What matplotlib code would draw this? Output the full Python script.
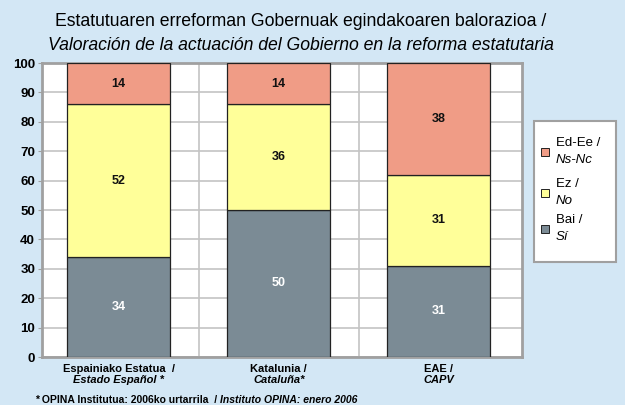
import matplotlib
matplotlib.use("Agg")
import matplotlib.pyplot as plt
from matplotlib.patches import Rectangle
import numpy as np

plt.rcParams['font.family'] = ['Liberation Sans', 'DejaVu Sans']

cat_eu = ["Espainiako Estatua  /", "Katalunia /", "EAE /"]
cat_es = ["Estado Español *", "Cataluña*", "CAPV"]
bai = [34, 50, 31]
ez = [52, 36, 31]
ns = [14, 14, 38]
series_eu = ["Ed-Ee /", "Ez /", "Bai /"]
series_es = ["Ns-Nc", "No", "Sí"]
colors = {"ns": "#f09c86", "ez": "#ffff99", "bai": "#7b8b95"}
yticks = list(range(0, 101, 10))

bg = "#d3e7f5"
fig = plt.figure(figsize=(6.25, 4.05), dpi=100, facecolor=bg)
ax = fig.add_axes([42/625, 1-357/405, 480/625, 294/405])
ax.set_facecolor("white")

x = np.arange(len(cat_eu))
w = 0.644
bottoms = np.zeros(3)
for vals, key in [(bai, "bai"), (ez, "ez"), (ns, "ns")]:
    ax.bar(x, vals, w, bottom=bottoms, color=colors[key], edgecolor="#222222", linewidth=0.9, zorder=3)
    for xi, b, v in zip(x, bottoms, vals):
        ax.text(xi, b + v/2, str(v), ha="center", va="center", fontsize=9, fontweight="bold",
                color="white" if key == "bai" else "#111111", zorder=4)
    bottoms = bottoms + np.array(vals)

ax.set_xlim(-0.48, 2.52)
ax.set_ylim(0, 100)
ax.set_yticks(yticks)
ax.set_yticklabels([str(t) for t in yticks], fontsize=9.5, fontweight="bold")
ax.set_xticks([])
ax.yaxis.grid(True, color="#c4c4c4", linewidth=1.2, zorder=0)
for xv in [0.5, 1.5]:
    ax.axvline(xv, color="#c4c4c4", linewidth=1.2, zorder=0)
for s in ax.spines.values():
    s.set_color("#a0a0a0")
    s.set_linewidth(2)
ax.tick_params(axis="y", length=3, color="#a0a0a0", pad=2)

for xi, l1, l2 in zip(x, cat_eu, cat_es):
    ax.text(xi, -4.2, l1, ha="center", va="center", fontsize=8, fontweight="bold")
    ax.text(xi, -7.9, l2, ha="center", va="center", fontsize=8, fontweight="bold", style="italic")

fig.text(301/625, 1-22/405, "Estatutuaren erreforman Gobernuak egindakoaren balorazioa /",
         ha="center", va="center", fontsize=12.7)
fig.text(301/625, 1-45/405, "Valoración de la actuación del Gobierno en la reforma estatutaria",
         ha="center", va="center", fontsize=12.7, style="italic")

t1 = fig.text(35/625, 1-400/405, "* OPINA Institutua: 2006ko urtarrila  / ", ha="left", va="center",
              fontsize=7.5, fontweight="bold")
fig.canvas.draw()
bb = t1.get_window_extent()
fig.text(bb.x1/625, 1-400/405, "Instituto OPINA: enero 2006", ha="left", va="center",
         fontsize=7.5, fontweight="bold", style="italic")

# legend box
fig.patches.append(Rectangle((534/625, 1-262/405), 82/625, 141/405, transform=fig.transFigure,
                             facecolor="white", edgecolor="#a0a0a0", linewidth=1.5))
leg_keys = ["ns", "ez", "bai"]
ys = [152, 193, 229]
for key, yc, e1, e2 in zip(leg_keys, ys, series_eu, series_es):
    fig.patches.append(Rectangle((541/625, 1-(yc+4)/405), 8/625, 8/405, transform=fig.transFigure,
                                 facecolor=colors[key], edgecolor="#222222", linewidth=0.7))
    fig.text(556/625, 1-(yc-9)/405, e1, ha="left", va="center", fontsize=9.5)
    fig.text(556/625, 1-(yc+8)/405, e2, ha="left", va="center", fontsize=9.5, style="italic")

fig.savefig("out.png", dpi=100, facecolor=bg)
